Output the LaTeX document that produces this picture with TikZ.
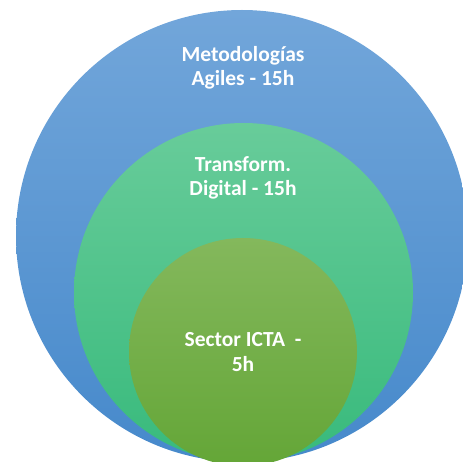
\documentclass[tikz,border=0pt]{standalone}
\usepackage{fontspec}
\setmainfont{Carlito}
\definecolor{bluetop}{HTML}{72A6DA}
\definecolor{bluebot}{HTML}{4689CB}
\definecolor{greentop}{HTML}{68CC9A}
\definecolor{greenbot}{HTML}{38BA7C}
\definecolor{olivetop}{HTML}{84B85C}
\definecolor{olivebot}{HTML}{64A637}
\begin{document}
\begin{tikzpicture}[x=1pt,y=-1pt,
  ring/.style={circle,inner sep=0pt,draw=none},
  lbl/.style={text=white,font=\fontsize{21.5}{24.5}\selectfont\bfseries,align=center}]
\useasboundingbox (0,0) rectangle (463,462);
\begin{scope}
\clip (0,0) rectangle (463,462);
\node[ring,minimum size=452pt,top color=bluetop,bottom color=bluebot] (outer) at (242,236) {};
\node[ring,minimum size=339pt,top color=greentop,bottom color=greenbot] (middle) at (243.5,292.5) {};
\node[ring,minimum size=228pt,top color=olivetop,bottom color=olivebot] (inner) at (243,352) {};
\end{scope}
\node[lbl] (t1) at (243,68) {Metodologías\\Agiles - 15h};
\node[lbl] (t2) at (243,178) {Transform.\\Digital - 15h};
\node[lbl] (t3) at (243,352) {Sector ICTA\ \ -\\5h};
\end{tikzpicture}
\end{document}
